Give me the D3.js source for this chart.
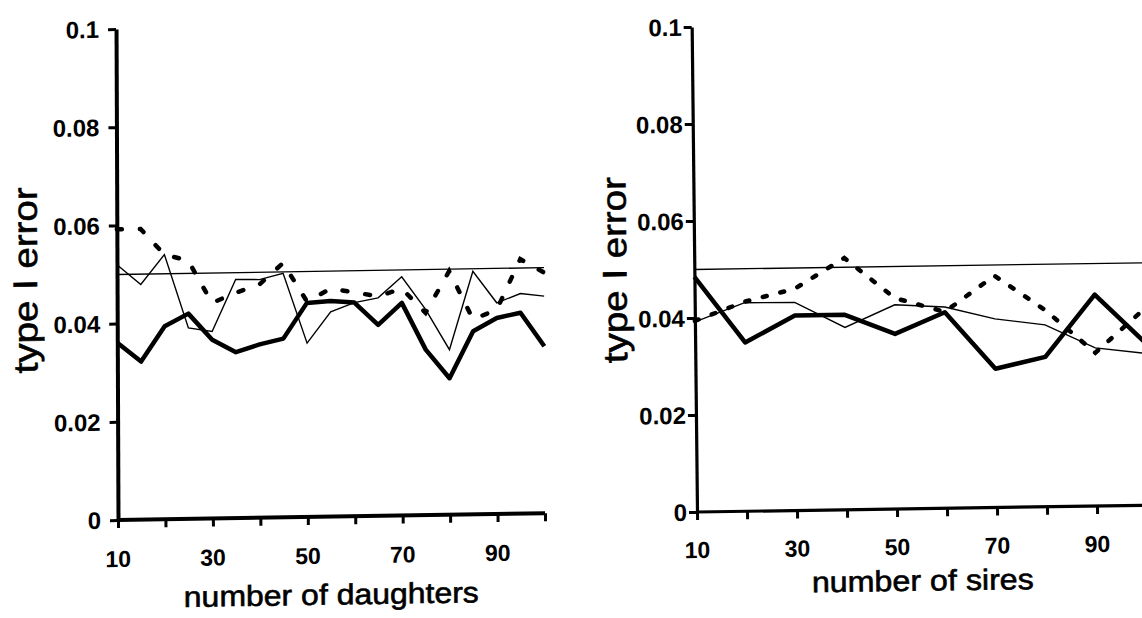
<!DOCTYPE html>
<html><head><meta charset="utf-8">
<script src="https://cdn.jsdelivr.net/npm/d3@7"></script>
<style>html,body{margin:0;padding:0;background:#fff;overflow:hidden;} svg{display:block;}</style>
</head><body>
<svg id="chart" width="1142" height="618"></svg>
<script>
// ---- data ----
const daughters = [10,15,20,25,30,35,40,45,50,55,60,65,70,75,80,85,90,95,100];
const daughtersThick  = [0.0361,0.0322,0.0393,0.0418,0.0364,0.0338,0.0353,0.0364,0.0436,0.0439,0.0435,0.0389,0.0433,0.0337,0.0278,0.0373,0.0399,0.0409,0.0340];
const daughtersThin   = [0.0520,0.0479,0.0539,0.0389,0.0381,0.0486,0.0485,0.0497,0.0354,0.0417,0.0435,0.0444,0.0486,0.0419,0.0336,0.0495,0.0430,0.0448,0.0442];
const daughtersDashed = [0.0592,0.0592,0.0539,0.0526,0.0439,0.0459,0.0475,0.0518,0.0439,0.0464,0.0456,0.0447,0.0462,0.0412,0.0496,0.0397,0.0416,0.0518,0.0490];

const sires = [10,20,30,40,50,60,70,80,90,100];
const siresThick  = [0.0485,0.0348,0.0402,0.0402,0.0361,0.0404,0.0286,0.0309,0.0436,0.0335];
const siresThin   = [0.0392,0.0430,0.0429,0.0376,0.0421,0.0415,0.0389,0.0375,0.0326,0.0313];
const siresDashed = [0.0394,0.0432,0.0457,0.0519,0.0435,0.0405,0.0478,0.0406,0.0316,0.0406];

const nominalLevel = 0.05;
const yTickValues = [0,0.02,0.04,0.06,0.08,0.1];
const yTickLabels = ["0","0.02","0.04","0.06","0.08","0.1"];
const xTickValues = [10,20,30,40,50,60,70,80,90,100];
const xLabelValues = [10,30,50,70,90];
const xLabelTexts = ["10","30","50","70","90"];
const yTitle = "type I error";
const xTitles = ["number of daughters","number of sires"];

// ---- layout ----
const svg = d3.select("#chart");
const FONT = "Liberation Sans, Arial, sans-serif";
const panels = [
  {x: daughters, thick: daughtersThick, thin: daughtersThin, dashed: daughtersDashed, title: xTitles[0],
   px0:118, px1:545, py0:520, py1:29, shx:0.004, shy:-0.016,
   ylabX:101, xlabY:567, titleX:331, titleY:608, titleLen:295,
   ytX:38, ytY:279, ytLen:186, dash:"5,18", axisW:4},
  {x: sires, thick: siresThick, thin: siresThin, dashed: siresDashed, title: xTitles[1],
   px0:697, px1:1147, py0:512, py1:27, shx:0.011, shy:-0.015,
   ylabX:687, xlabY:558, titleX:922, titleY:594, titleLen:222,
   ytX:629, ytY:269, ytLen:186, dash:"4,14", axisW:3.2}
];

panels.forEach(p => {
  const g = svg.append("g")
    .attr("transform", `translate(${p.px0},${p.py0}) matrix(1,${p.shy},${p.shx},1,0,0) translate(${-p.px0},${-p.py0})`);
  const x = d3.scaleLinear().domain([10,100]).range([p.px0, p.px1]);
  const y = d3.scaleLinear().domain([0,0.1]).range([p.py0, p.py1]);

  // axes
  const ax = g.append("g").attr("transform", `translate(0,${p.py0})`)
    .call(d3.axisBottom(x).tickValues(xTickValues).tickSize(8).tickSizeOuter(0).tickFormat(""));
  ax.select(".domain").attr("stroke","#000").attr("stroke-width",p.axisW)
    .attr("d", `M${p.px0},0H${p.px1 + (p.px1 > 1142 ? 20 : 0)}`);
  ax.selectAll(".tick line").attr("stroke","#000").attr("stroke-width",3);

  const ay = g.append("g").attr("transform", `translate(${p.px0},0)`)
    .call(d3.axisLeft(y).tickValues(yTickValues).tickSize(8).tickSizeOuter(0).tickFormat(""));
  ay.select(".domain").attr("stroke","#000").attr("stroke-width",p.axisW);
  ay.selectAll(".tick line").attr("stroke","#000").attr("stroke-width",3);

  // tick labels
  g.selectAll(".ylab").data(yTickValues).enter().append("text")
    .attr("x", p.ylabX).attr("y", d => y(d)).attr("dy","0.36em")
    .attr("text-anchor","end")
    .style("font-family",FONT)
    .style("font-weight","bold").style("font-size","24px")
    .text((d,i) => yTickLabels[i]);
  g.selectAll(".xlab").data(xLabelValues).enter().append("text")
    .attr("x", d => x(d)).attr("y", p.xlabY)
    .attr("text-anchor","middle")
    .style("font-family",FONT)
    .style("font-weight","bold").style("font-size","23px")
    .text((d,i) => xLabelTexts[i]);

  // titles
  g.append("text").attr("x", p.titleX).attr("y", p.titleY)
    .attr("text-anchor","middle")
    .attr("textLength", p.titleLen).attr("lengthAdjust","spacingAndGlyphs")
    .style("font-family",FONT).style("font-size","29px")
    .attr("stroke","#000").attr("stroke-width",0.6)
    .text(p.title);
  g.append("text")
    .attr("transform", `translate(${p.ytX},${p.ytY}) rotate(-90)`)
    .attr("text-anchor","middle")
    .attr("textLength", p.ytLen).attr("lengthAdjust","spacingAndGlyphs")
    .style("font-family",FONT).style("font-size","34px")
    .attr("stroke","#000").attr("stroke-width",0.6)
    .text(yTitle);

  // lines
  const line = d3.line().x(d => x(d[0])).y(d => y(d[1]));
  g.append("path").datum([[10,nominalLevel],[100,nominalLevel]])
    .attr("d", line).attr("fill","none").attr("stroke","#000").attr("stroke-width",1.3);
  g.append("path").datum(p.x.map((v,i)=>[v,p.thin[i]]))
    .attr("d", line).attr("fill","none").attr("stroke","#000").attr("stroke-width",1.4);
  g.append("path").datum(p.x.map((v,i)=>[v,p.thick[i]]))
    .attr("d", line).attr("fill","none").attr("stroke","#000").attr("stroke-width",4.5)
    .attr("stroke-linejoin","round");
  g.append("path").datum(p.x.map((v,i)=>[v,p.dashed[i]]))
    .attr("d", line).attr("fill","none").attr("stroke","#000").attr("stroke-width",4.5)
    .attr("stroke-dasharray", p.dash).attr("stroke-linecap","round");
});
</script>
</body></html>
